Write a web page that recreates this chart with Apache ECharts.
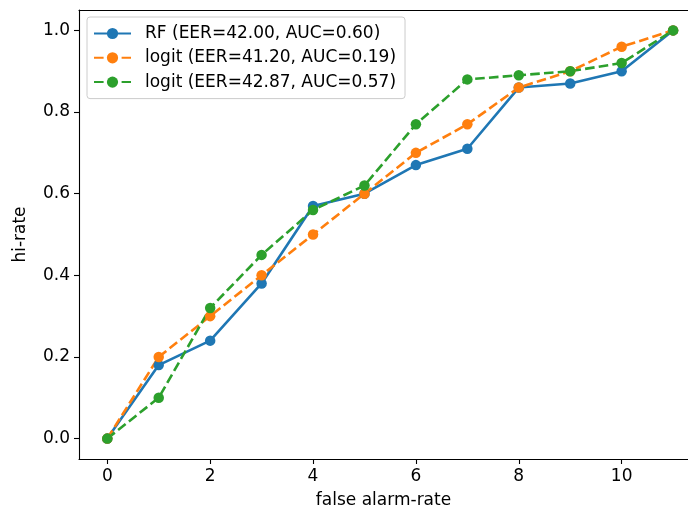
<!DOCTYPE html>
<html>
<head>
<meta charset="utf-8">
<script src="https://cdn.jsdelivr.net/npm/echarts@6/dist/echarts.min.js"></script>
<style>
html,body{margin:0;padding:0;background:#fff;}
#c{width:688px;height:515px;}
</style>
</head>
<body>
<div id="c"></div>
<script>
var xValues = [0, 1, 2, 3, 4, 5, 6, 7, 8, 9, 10, 11];
var rfValues = [0.00, 0.18, 0.24, 0.38, 0.57, 0.60, 0.67, 0.71, 0.86, 0.87, 0.90, 1.00];
var logitAValues = [0.00, 0.20, 0.30, 0.40, 0.50, 0.60, 0.70, 0.77, 0.86, 0.90, 0.96, 1.00];
var logitBValues = [0.00, 0.10, 0.32, 0.45, 0.56, 0.62, 0.77, 0.88, 0.89, 0.90, 0.92, 1.00];
var seriesNames = ['RF (EER=42.00, AUC=0.60)', 'logit (EER=41.20, AUC=0.19)', 'logit (EER=42.87, AUC=0.57)'];
var xTicks = [0, 2, 4, 6, 8, 10];
var yTicks = [0, 0.2, 0.4, 0.6, 0.8, 1.0];

function pairs(xs, ys) { return xs.map(function (x, i) { return [x, ys[i]]; }); }

var FONT = 'DejaVu Sans';
var dash = [9.6, 4.2];
function mkSeries(name, vals, color, dashed) {
  return {
    name: name,
    type: 'line',
    xAxisIndex: 0,
    data: pairs(xValues, vals),
    symbol: 'circle',
    symbolSize: 10.5,
    showSymbol: true,
    lineStyle: { color: color, width: 2.6, type: dashed ? dash : 'solid' },
    itemStyle: { color: color, borderWidth: 0 },
    emphasis: { disabled: true },
    silent: true
  };
}

var X_MIN = -0.55, X_MAX = 11.29;
var chart = echarts.init(document.getElementById('c'), null, { renderer: 'canvas' });
chart.setOption({
  animation: false,
  backgroundColor: '#fff',
  textStyle: { fontFamily: FONT },
  grid: { left: 79, top: 10, right: 0, bottom: 56, show: false },
  legend: {
    orient: 'vertical',
    left: 87, top: 17,
    padding: [8, 9, 8, 6],
    itemGap: 7.3,
    itemWidth: 37,
    itemHeight: 14,
    backgroundColor: 'rgba(255,255,255,0.8)',
    borderColor: '#cccccc',
    borderWidth: 1,
    borderRadius: 3,
    textStyle: { fontFamily: FONT, fontSize: 17, color: '#000', lineHeight: 17, padding: [0, 0, 0, 9] },
    data: seriesNames
  },
  xAxis: [{
    type: 'value',
    position: 'bottom',
    min: X_MIN, max: X_MAX,
    name: 'false alarm-rate',
    nameLocation: 'middle',
    nameGap: 33,
    nameTextStyle: { fontFamily: FONT, fontSize: 17, color: '#000' },
    axisLine: { show: true, onZero: false, lineStyle: { color: '#000', width: 1.1 } },
    axisTick: { show: true, length: 5, lineStyle: { color: '#000', width: 1.1 }, customValues: xTicks },
    axisLabel: { fontFamily: FONT, fontSize: 17, color: '#000', margin: 9, customValues: xTicks, formatter: function (v) { return String(v); } },
    splitLine: { show: false }
  }, {
    type: 'value',
    position: 'top',
    min: X_MIN, max: X_MAX,
    axisLine: { show: true, onZero: false, lineStyle: { color: '#000', width: 1.1 } },
    axisTick: { show: false },
    axisLabel: { show: false },
    splitLine: { show: false }
  }],
  yAxis: {
    type: 'value',
    min: -0.05, max: 1.05,
    name: 'hi-rate',
    nameLocation: 'middle',
    nameGap: 50,
    nameTextStyle: { fontFamily: FONT, fontSize: 17, color: '#000' },
    axisLine: { show: true, onZero: false, lineStyle: { color: '#000', width: 1.1 } },
    axisTick: { show: true, length: 5, lineStyle: { color: '#000', width: 1.1 }, customValues: yTicks },
    axisLabel: { fontFamily: FONT, fontSize: 17, color: '#000', margin: 9, customValues: yTicks, formatter: function (v) { return v.toFixed(1); } },
    splitLine: { show: false }
  },
  series: [
    mkSeries(seriesNames[0], rfValues, '#1f77b4', false),
    mkSeries(seriesNames[1], logitAValues, '#ff7f0e', true),
    mkSeries(seriesNames[2], logitBValues, '#2ca02c', true)
  ]
});
</script>
</body>
</html>
